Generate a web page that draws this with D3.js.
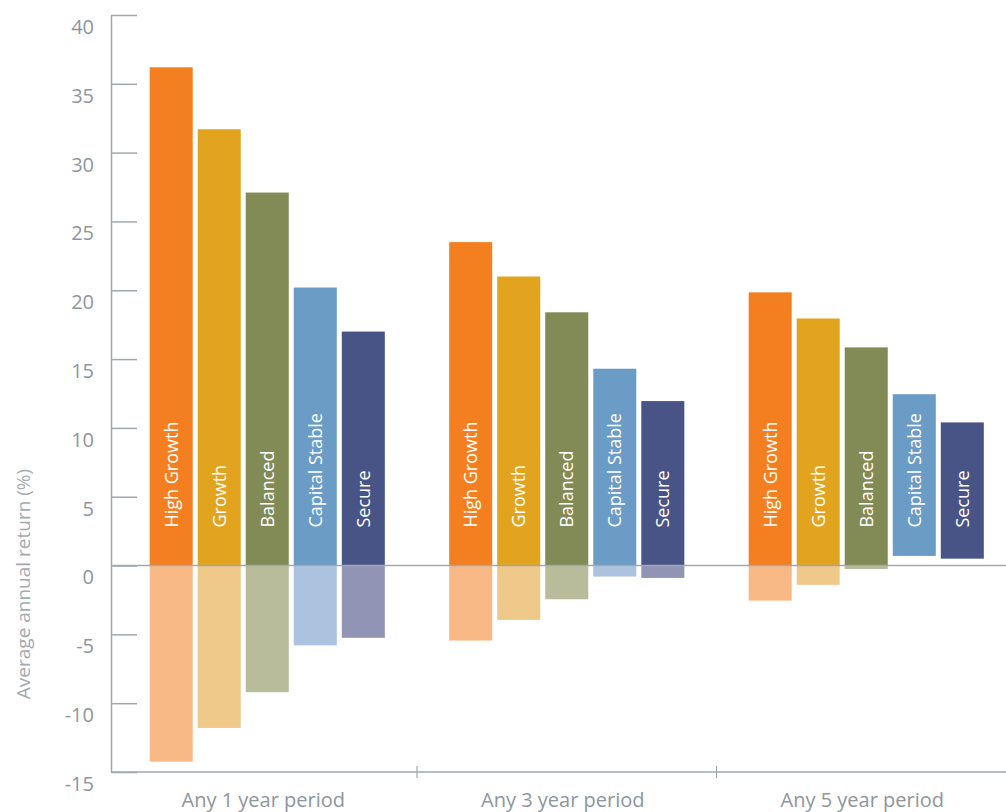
<!DOCTYPE html>
<html>
<head>
<meta charset="utf-8">
<script src="https://cdn.jsdelivr.net/npm/d3@7"></script>
<style>
  body { margin: 0; background: #fff; }
  text { font-family: "Open Sans", sans-serif; }
</style>
</head>
<body>
<script>
// Data
const periods = ["Any 1 year period", "Any 3 year period", "Any 5 year period"];
const funds = ["High Growth", "Growth", "Balanced", "Capital Stable", "Secure"];
// best and worst average annual return per period, one value per fund
const bestReturn = [
    [36.2, 31.7, 27.1, 20.2, 17.0],
    [23.5, 21.0, 18.4, 14.3, 11.95],
    [19.85, 17.95, 15.85, 12.45, 10.4]
];
const worstReturn = [
    [-14.25, -11.8, -9.2, -5.8, -5.25],
    [-5.45, -3.95, -2.45, -0.8, -0.9],
    [-2.55, -1.4, -0.25, 0.7, 0.5]
];
const yTicks = [-15, -10, -5, 0, 5, 10, 15, 20, 25, 30, 35, 40];
const darkColors = ["#f47f20", "#e2a31e", "#828a55", "#6a9cc6", "#475485"];
const lightColors = ["#f9b986", "#eec98a", "#b8bc9a", "#abc3de", "#9294b6"];

// Constants
const width = 1006;
const height = 812;
const axisX = 111;
const gray = "#a0a7ae";
const textGray = "#8e969d";

var svg = d3.select("body")
    .append("svg")
    .attr("width", width)
    .attr("height", height);

const y = d3.scaleLinear()
    .domain([-15, 40])
    .range([772, 15]);

const x = d3.scaleBand()
    .domain(periods)
    .range([117.5, 1016]);

const xInner = d3.scaleBand()
    .domain(funds)
    .range([0, x.bandwidth()])
    .paddingInner(0.104)
    .paddingOuter(0.67);

// rows of bar data
let rows = [];
periods.forEach((p, i) => {
    funds.forEach((f, j) => {
        rows.push({period: p, fund: f, idx: j, hi: bestReturn[i][j], lo: worstReturn[i][j]});
    });
});

let bars = svg.append("g");

// light part (below zero)
bars.selectAll("rect.neg")
    .data(rows.filter(d => d.lo < 0))
    .enter()
    .append("rect")
    .attr("class", "neg")
    .attr("x", d => x(d.period) + xInner(d.fund))
    .attr("width", xInner.bandwidth())
    .attr("y", y(0))
    .attr("height", d => y(d.lo) - y(0))
    .attr("fill", d => lightColors[d.idx]);

// dark part (above zero)
bars.selectAll("rect.pos")
    .data(rows)
    .enter()
    .append("rect")
    .attr("class", "pos")
    .attr("x", d => x(d.period) + xInner(d.fund))
    .attr("width", xInner.bandwidth())
    .attr("y", d => y(d.hi))
    .attr("height", d => y(Math.max(d.lo, 0)) - y(d.hi))
    .attr("fill", d => darkColors[d.idx]);

// fund names inside bars
bars.selectAll("text")
    .data(rows)
    .enter()
    .append("text")
    .attr("transform", d => {
        let cx = x(d.period) + xInner(d.fund) + xInner.bandwidth() / 2;
        return "translate(" + cx + "," + (y(0) - 38) + ") rotate(-90)";
    })
    .attr("dy", "0.36em")
    .attr("fill", "#fff")
    .style("font-size", "18px")
    .text(d => d.fund);

// zero line
svg.append("line")
    .attr("x1", axisX)
    .attr("x2", width)
    .attr("y1", y(0))
    .attr("y2", y(0))
    .attr("stroke", gray)
    .attr("stroke-width", 1.5);

// y axis
let yAxis = svg.append("g")
    .attr("transform", "translate(" + axisX + ",0)")
    .call(d3.axisLeft(y).tickValues(yTicks).tickFormat(d => String(d))
        .tickSizeInner(-26).tickSizeOuter(0).tickPadding(17));

yAxis.select(".domain").attr("stroke", gray).attr("stroke-width", 1.5);
yAxis.selectAll(".tick line").attr("stroke", gray).attr("stroke-width", 1.5);
yAxis.selectAll(".tick text")
    .attr("y", 12)
    .attr("fill", textGray)
    .style("font-size", "20px")
    .style("font-family", "Open Sans");

// x axis
let xAxis = svg.append("g");
xAxis.append("line")
    .attr("x1", axisX)
    .attr("x2", width)
    .attr("y1", y(-15))
    .attr("y2", y(-15))
    .attr("stroke", gray)
    .attr("stroke-width", 1.5);

xAxis.selectAll("line.sep")
    .data(periods.slice(1))
    .enter()
    .append("line")
    .attr("class", "sep")
    .attr("x1", d => x(d))
    .attr("x2", d => x(d))
    .attr("y1", y(-15) - 6)
    .attr("y2", y(-15) + 6)
    .attr("stroke", gray)
    .attr("stroke-width", 1.2);

xAxis.selectAll("text")
    .data(periods)
    .enter()
    .append("text")
    .attr("x", d => x(d) + x.bandwidth() / 2 - 4)
    .attr("y", 807)
    .attr("text-anchor", "middle")
    .attr("fill", textGray)
    .style("font-size", "20px")
    .text(d => d);

// y title
svg.append("text")
    .attr("transform", "translate(30,584) rotate(-90)")
    .attr("text-anchor", "middle")
    .attr("fill", "#a3aab0")
    .style("font-size", "19px")
    .text("Average annual return (%)");
</script>
</body>
</html>
